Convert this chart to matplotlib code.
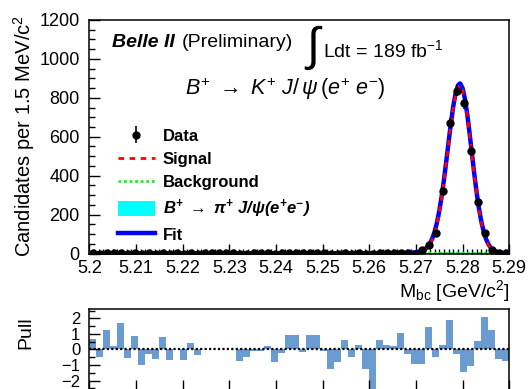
import numpy as np
import matplotlib
matplotlib.use("Agg")
import matplotlib.pyplot as plt
from matplotlib.lines import Line2D
from matplotlib.patches import Patch
from matplotlib.ticker import MultipleLocator

plt.rcParams['font.family'] = ['Liberation Sans', 'DejaVu Sans']
plt.rcParams['mathtext.fontset'] = 'custom'
plt.rcParams['mathtext.rm'] = 'Liberation Sans'
plt.rcParams['mathtext.it'] = 'Liberation Sans:italic'
plt.rcParams['mathtext.bf'] = 'Liberation Sans:bold:italic'
plt.rcParams['mathtext.sf'] = 'Liberation Sans'

# ---------------- data ----------------
x_lo = 5.2
bin_w = 0.0015
n_bins = 60

counts = [2, 0, 3, 1, 4, 0, 2, 0, 1, 0, 2, 0, 1, 0, 2, 0, 1, 1, 1, 1,
          1, 0, 0, 1, 1, 1, 0, 1, 2, 2, 1, 2, 2, 1, 0, 0, 2, 0, 1, 0,
          0, 2, 1, 1, 3, 1, 0, 18, 44, 107, 323, 672, 837, 772, 527, 266,
          104, 18, 2, 1]

pulls = [0.65, -0.5, 1.27, 0.2, 1.72, -0.55, 0.88, -1.0, -0.3, -0.6,
         0.82, -0.67, 0.0, -0.7, 0.4, -0.38, 0.0, 0.0, 0.0, 0.0,
         0.0, -0.77, -0.45, -0.1, -0.1, 0.25, -0.82, -0.2, 0.9, 0.9,
         -0.15, 0.9, 0.9, -0.1, -1.27, -0.82, 0.58, -0.45, 0.26, -1.22,
         -2.7, 0.63, 0.28, 0.2, 1.05, -0.3, -0.95, -0.9, 1.44, -0.5,
         0.28, 1.9, -0.31, -1.46, -1.03, 0.53, 2.1, 1.25, -0.62, -0.72]

curve_x = [5.2000, 5.2600, 5.2650, 5.2680, 5.2690, 5.2695,
           5.2700, 5.2705, 5.2710, 5.2715, 5.2720, 5.2725, 5.2730, 5.2735,
           5.2740, 5.2745, 5.2750, 5.2755, 5.2760, 5.2765, 5.2770, 5.2775,
           5.2780, 5.2785, 5.2790, 5.2794,
           5.2795, 5.2800, 5.2805, 5.2810, 5.2815, 5.2820, 5.2825, 5.2830,
           5.2835, 5.2840, 5.2845, 5.2850, 5.2855, 5.2860, 5.2865, 5.2870,
           5.2875, 5.2880, 5.2885, 5.2890, 5.2895, 5.2900]

signal_y = [0.0, 0.5, 1.5, 3.0, 3.8, 4.5,
            5.8, 7.5, 10, 14, 21, 32, 48, 72, 106, 152, 212, 285, 371,
            466, 566, 663, 749, 815, 855, 865,
            864, 840, 785, 705, 608, 504, 401, 307, 225, 159, 108, 70,
            44, 26.5, 15.3, 8.5, 4.5, 2.3, 1.1, 0.5, 0.2, 0.1]

bkg_y = [1.3, 1.0, 0.95, 0.92, 0.91, 0.9,
         0.9, 0.9, 0.89, 0.89, 0.88, 0.88, 0.87, 0.87, 0.86, 0.86, 0.85,
         0.85, 0.84, 0.83, 0.82, 0.81, 0.80, 0.79, 0.78, 0.77,
         0.77, 0.75, 0.73, 0.71, 0.68, 0.65, 0.62, 0.59, 0.56, 0.52, 0.48,
         0.44, 0.40, 0.36, 0.31, 0.26, 0.21, 0.16, 0.11, 0.07, 0.03, 0.0]

peak_y = [0, 0, 0, 0, 0, 0,
          0, 0, 0, 0.5, 1.5, 2.5, 3.5, 4.5, 5.5, 6, 6.5, 7, 7.5, 8, 8, 8,
          8, 8, 8, 8,
          8, 8, 8, 7.5, 7, 7, 6.5, 6, 6, 5.5, 5, 5, 4.5, 4, 4, 3.5, 3,
          2.5, 2, 1.5, 1, 0.5]

x_ticks = [5.20, 5.21, 5.22, 5.23, 5.24, 5.25, 5.26, 5.27, 5.28, 5.29]
x_tick_labels = ['5.2', '5.21', '5.22', '5.23', '5.24', '5.25', '5.26',
                 '5.27', '5.28', '5.29']
y_ticks = [0, 200, 400, 600, 800, 1000, 1200]
y_tick_labels = ['0', '200', '400', '600', '800', '1000', '1200']
pull_ticks = [-2, -1, 0, 1, 2]
pull_tick_labels = ['\u22122', '\u22121', '0', '1', '2']

legend_labels = ['Data', 'Signal', 'Background',
                 r'$\mathbf{B^{+}\ \rightarrow\ \pi^{+}\ J/\psi(e^{+}e^{-})}$',
                 'Fit']

# ---------------- figure ----------------
W, H = 530, 389
fig = plt.figure(figsize=(W / 100, H / 100), dpi=100)


def fx(px):
    return px / W


def fy(py):
    return 1 - py / H


centers = x_lo + bin_w * (np.arange(n_bins) + 0.5)
counts_a = np.array(counts, dtype=float)
sig = np.array(signal_y)
bkg = np.array(bkg_y)
pk = np.array(peak_y)
fit_y = sig + bkg + pk

ax = fig.add_axes([fx(89.3), fy(253.5), 420 / W, 233.5 / H])
axp = fig.add_axes([fx(89.3), fy(390), 420 / W, 81 / H])

ax.fill_between(curve_x, 0, pk, color='#00ffff', lw=0, zorder=1)
h_bkg, = ax.plot(curve_x, bkg, color='#22ee22', ls=(0, (1, 1)), lw=2, zorder=2)
h_fit, = ax.plot(curve_x, fit_y, color='#0000ff', lw=3.2, zorder=3)
h_sig, = ax.plot(curve_x, sig, color='#ff0000', ls=(0, (2, 2)), lw=2, zorder=4)
h_data = ax.errorbar(centers, counts_a, yerr=np.sqrt(counts_a), fmt='o',
                     color='black', ms=5, elinewidth=1.2, capsize=0, zorder=5)

ax.set_xlim(5.2, 5.29)
ax.set_ylim(0, 1200)
ax.set_xticks(x_ticks)
ax.set_xticklabels(x_tick_labels)
ax.set_yticks(y_ticks)
ax.set_yticklabels(y_tick_labels)
ax.xaxis.set_minor_locator(MultipleLocator(0.001))
ax.yaxis.set_minor_locator(MultipleLocator(50))
ax.tick_params(axis='both', which='both', direction='in', top=False, right=False,
               labelsize=13, width=1)
ax.tick_params(axis='y', which='major', length=8, pad=7)
ax.tick_params(axis='y', which='minor', length=4)
ax.tick_params(axis='x', which='major', length=7, pad=4.5)
ax.tick_params(axis='x', which='minor', length=3.5)
for s in ax.spines.values():
    s.set_linewidth(1.1)

handles = [h_data, h_sig, h_bkg, Patch(facecolor='#00ffff', edgecolor='none'), h_fit]
ax.legend(handles, legend_labels, loc='upper left',
          bbox_to_anchor=(fx(118), fy(128)), bbox_transform=fig.transFigure,
          frameon=False, borderpad=0, borderaxespad=0, handlelength=2.2,
          handletextpad=0.5, labelspacing=0.42, handleheight=1.0,
          prop={'weight': 'bold', 'size': 12})

# pull panel
axp.bar(centers, pulls, width=bin_w, color='#6a9bd1', lw=0, zorder=1)
axp.axhline(0, color='black', ls=(0, (1, 1)), lw=1.6, zorder=2)
axp.set_xlim(5.2, 5.29)
axp.set_ylim(-2.6, 2.6)
axp.set_xticks(x_ticks)
axp.set_xticklabels([])
axp.set_yticks(pull_ticks)
axp.set_yticklabels(pull_tick_labels)
axp.yaxis.set_minor_locator(MultipleLocator(0.5))
axp.tick_params(axis='both', which='both', direction='in', top=False, right=False,
                labelsize=12, width=1)
axp.tick_params(axis='y', which='major', length=8, pad=6.5)
axp.tick_params(axis='y', which='minor', length=4)
axp.tick_params(axis='x', which='major', length=7)
for s in axp.spines.values():
    s.set_linewidth(1.1)

# texts
fig.text(fx(24), fy(15), 'Candidates per 1.5 MeV/c$^{2}$', rotation=90,
         ha='center', va='top', fontsize=14.5)
fig.text(fx(510), fy(291), r'M$_{\mathrm{bc}}$ [GeV/c$^{2}$]', ha='right',
         va='center', fontsize=14)
fig.text(fx(26), fy(316), 'Pull', rotation=90, ha='center', va='top', fontsize=14)

fig.text(fx(111.7), fy(46.7), 'Belle II', fontweight='bold', style='italic',
         fontsize=14, va='baseline')
fig.text(fx(181.7), fy(46.7), '(Preliminary)', fontsize=14, va='baseline')
fig.text(fx(313), fy(48), '\u222b', fontsize=34, ha='center', va='center')
fig.text(fx(323), fy(56.7), r'Ldt = 189 fb$^{\mathrm{-1}}$', fontsize=14,
         va='baseline')
fig.text(fx(185), fy(95), r'$B^{+}\ \rightarrow\ K^{+}\ J/\,\psi\,(e^{+}\ e^{-})$',
         fontsize=15.5, va='baseline')

fig.savefig('out.png', dpi=100)
